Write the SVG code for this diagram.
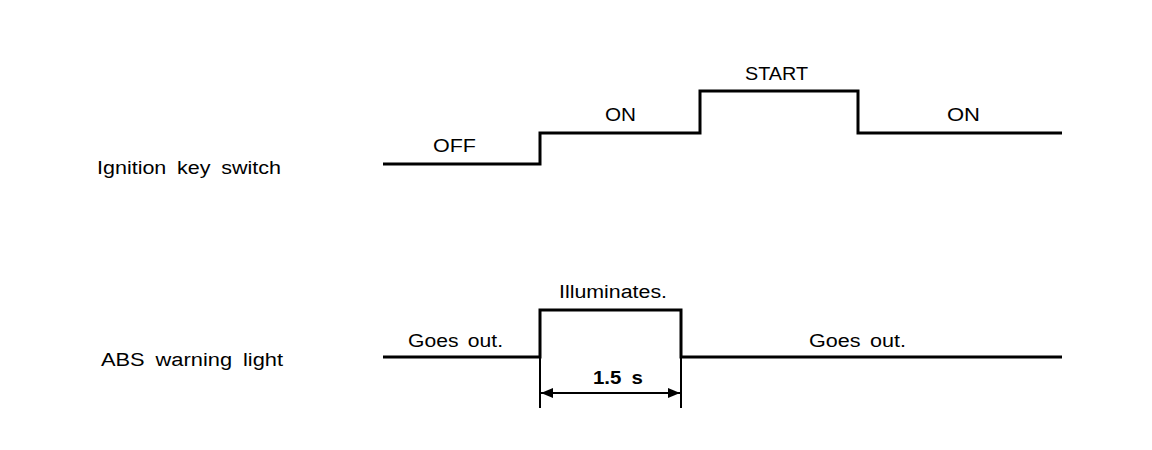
<svg xmlns="http://www.w3.org/2000/svg" width="1152" height="450" viewBox="0 0 1152 450">
<style>
text{font-family:"Liberation Sans",Arial,sans-serif;font-size:18px;fill:#000}
.sig{fill:none;stroke:#000;stroke-width:3;stroke-linejoin:miter}
.thin{fill:none;stroke:#000;stroke-width:2}
</style>
<defs>
<marker id="ah" viewBox="0 0 12 10" refX="12" refY="5" markerWidth="13" markerHeight="10" markerUnits="userSpaceOnUse" orient="auto-start-reverse">
<path d="M0,0 L12,5 L0,10 z" fill="#000"/>
</marker>
</defs>
<rect width="1152" height="450" fill="#fff"/>
<g id="labels">
<text x="97" y="174" textLength="184" lengthAdjust="spacingAndGlyphs" word-spacing="4">Ignition key switch</text>
<text x="101" y="366" textLength="182" lengthAdjust="spacingAndGlyphs" word-spacing="4">ABS warning light</text>
</g>
<g id="connectors">
<polyline id="ignition" class="sig" points="383,164 540,164 540,133 700,133 700,91 858,91 858,133 1062,133"/>
<polyline id="abs" class="sig" points="383,357 540,357 540,310 681,310 681,357 1062,357"/>
<line class="thin" x1="540" y1="357" x2="540" y2="408"/>
<line class="thin" x1="681" y1="357" x2="681" y2="408"/>
<line class="thin" x1="541" y1="393" x2="680" y2="393" marker-start="url(#ah)" marker-end="url(#ah)"/>
</g>
<g id="state-labels">
<text x="433" y="152" textLength="43" lengthAdjust="spacingAndGlyphs">OFF</text>
<text x="605" y="121" textLength="31" lengthAdjust="spacingAndGlyphs">ON</text>
<text x="745" y="80" textLength="63" lengthAdjust="spacingAndGlyphs">START</text>
<text x="947" y="121" textLength="33" lengthAdjust="spacingAndGlyphs">ON</text>
<text x="559" y="298" textLength="108" lengthAdjust="spacingAndGlyphs">Illuminates.</text>
<text x="408" y="347" textLength="95" lengthAdjust="spacingAndGlyphs" word-spacing="3">Goes out.</text>
<text x="809" y="347" textLength="97" lengthAdjust="spacingAndGlyphs" word-spacing="3">Goes out.</text>
<text x="593" y="384" textLength="50" lengthAdjust="spacingAndGlyphs" word-spacing="4" font-weight="bold">1.5 s</text>
</g>
</svg>
